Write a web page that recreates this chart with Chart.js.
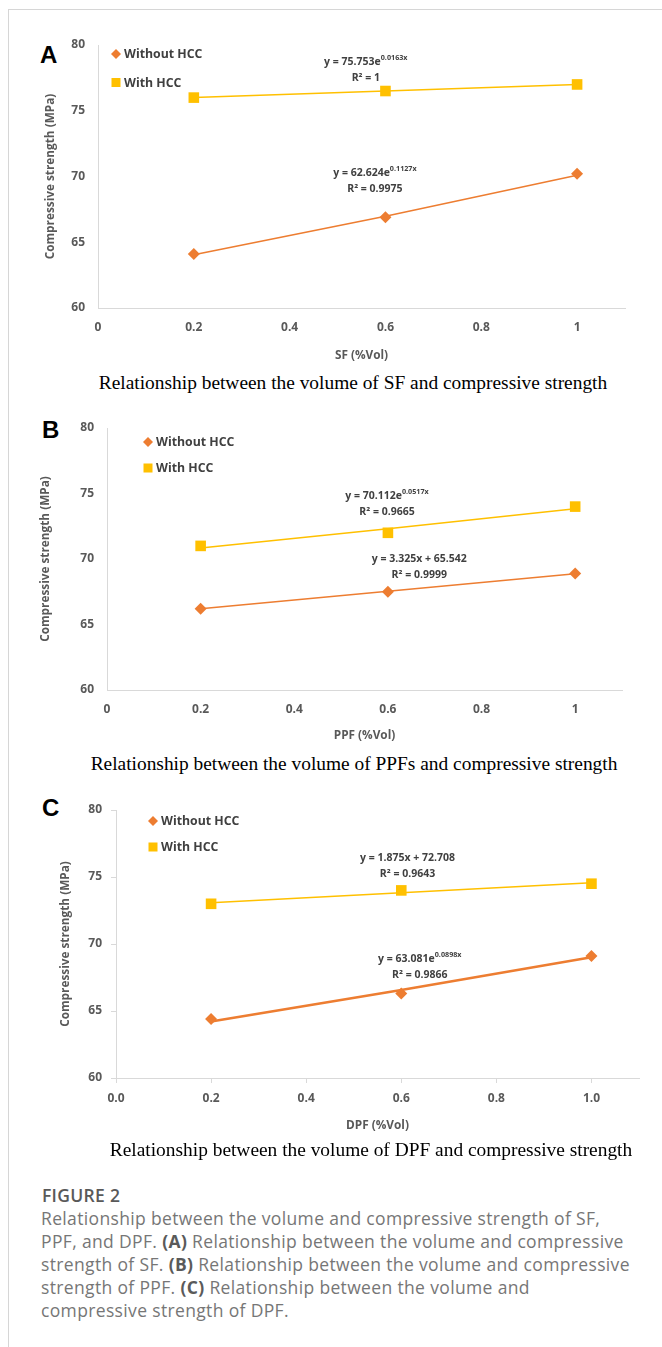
<!DOCTYPE html>
<html>
<head>
<meta charset="utf-8">
<script src="https://cdn.jsdelivr.net/npm/chart.js@4.4.1/dist/chart.umd.min.js"></script>
<style>
html,body{margin:0;padding:0;background:#fff;}
body{width:662px;height:1347px;position:relative;overflow:hidden;font-family:"Open Sans",sans-serif;}
.frame{position:absolute;left:8px;top:9px;width:660px;height:1345px;border-top:1px solid #d6d6d6;border-left:1px solid #d6d6d6;}
canvas{position:absolute;left:10px;}
.letter{position:absolute;font:bold 24px "Liberation Sans",Arial,sans-serif;color:#000;line-height:24px;}
.sub{position:absolute;font:19.4px "Liberation Serif","Times New Roman",serif;color:#000;white-space:nowrap;transform:translate(-50%,-50%);line-height:22px;}
.fig{position:absolute;left:42px;top:1184px;font:600 17.5px/23px "Open Sans",sans-serif;color:#595959;letter-spacing:0.3px;}
.cap{position:absolute;left:41px;top:1207px;font:400 17.5px/23px "Open Sans",sans-serif;color:#767676;white-space:nowrap;letter-spacing:0.35px;}
.cap b{font-weight:700;color:#5a5a5a;}
</style>
</head>
<body>
<div class="frame"></div>
<div class="letter" style="left:40px;top:43px;">A</div>
<div class="letter" style="left:42px;top:418px;">B</div>
<div class="letter" style="left:42px;top:796px;">C</div>
<canvas id="cA"></canvas>
<canvas id="cB"></canvas>
<canvas id="cC"></canvas>
<div class="sub" style="left:353px;top:383px;">Relationship between the volume of SF and compressive strength</div>
<div class="sub" style="left:354px;top:764px;">Relationship between the volume of PPFs and compressive strength</div>
<div class="sub" style="left:371px;top:1150px;">Relationship between the volume of DPF and compressive strength</div>
<div class="fig">FIGURE 2</div>
<div class="cap">Relationship between the volume and compressive strength of SF,<br>PPF, and DPF. <b>(A)</b> Relationship between the volume and compressive<br>strength of SF. <b>(B)</b> Relationship between the volume and compressive<br>strength of PPF. <b>(C)</b> Relationship between the volume and<br>compressive strength of DPF.</div>
<script>
// ---------------- DATA ----------------
const seriesNames = ['Without HCC', 'With HCC'];
const fiberVolume = [0.2, 0.6, 1.0];

const sfWithout = [64.1, 66.9, 70.2];
const sfWith = [76.0, 76.5, 77.0];
const sfWithoutTrend = [64.05, 66.98, 70.09];
const sfWithTrend = [76.0, 76.5, 77.0];

const ppfWithout = [66.2, 67.5, 68.9];
const ppfWith = [71.0, 72.0, 74.0];
const ppfWithoutTrend = [66.21, 67.54, 68.87];
const ppfWithTrend = [70.84, 72.31, 73.83];

const dpfWithout = [64.4, 66.3, 69.1];
const dpfWith = [73.0, 74.0, 74.5];
const dpfWithoutTrend = [64.22, 66.56, 69.01];
const dpfWithTrend = [73.08, 73.83, 74.58];

const sfXTickLabels = ['0', '0.2', '0.4', '0.6', '0.8', '1'];
const ppfXTickLabels = ['0', '0.2', '0.4', '0.6', '0.8', '1'];
const dpfXTickLabels = ['0.0', '0.2', '0.4', '0.6', '0.8', '1.0'];
const yTickLabels = ['60', '65', '70', '75', '80'];

const xTitles = ['SF (%Vol)', 'PPF (%Vol)', 'DPF (%Vol)'];
const yTitle = 'Compressive strength (MPa)';

// equation labels: [With HCC, Without HCC]
const sfEquations = [
  {eq: 'y = 75.753e', sup: '0.0163x', r2: 'R² = 1'},
  {eq: 'y = 62.624e', sup: '0.1127x', r2: 'R² = 0.9975'}
];
const ppfEquations = [
  {eq: 'y = 70.112e', sup: '0.0517x', r2: 'R² = 0.9665'},
  {eq: 'y = 3.325x + 65.542', sup: '', r2: 'R² = 0.9999'}
];
const dpfEquations = [
  {eq: 'y = 1.875x + 72.708', sup: '', r2: 'R² = 0.9643'},
  {eq: 'y = 63.081e', sup: '0.0898x', r2: 'R² = 0.9866'}
];

// ---------------- STYLE / LAYOUT ----------------
const ORANGE = '#ED7D31';
const YELLOW = '#FFC000';
const AXIS_GRAY = '#d9d9d9';
const TICK_COLOR = '#595959';
const TEXT_DARK = '#404040';

const panels = [
  {canvas: 'cA', plot: {left: 98, right: 625, top: 45, bottom: 308}, xTitle: xTitles[0], xLabels: sfXTickLabels,
   without: sfWithout, withH: sfWith, withoutTrend: sfWithoutTrend, withTrend: sfWithTrend, eqs: sfEquations,
   eqPos: [[0.559, 78.71], [0.578, 70.27]], legend: {dx: 18, dy1: 9, dy2: 37.5}, ticks: false,
   yTitleX: 51, xTitleGap: 48, orangeWidth: 1.5},
  {canvas: 'cB', plot: {left: 107, right: 622, top: 428, bottom: 690}, xTitle: xTitles[1], xLabels: ppfXTickLabels,
   without: ppfWithout, withH: ppfWith, withoutTrend: ppfWithoutTrend, withTrend: ppfWithTrend, eqs: ppfEquations,
   eqPos: [[0.598, 74.81], [0.667, 70.0]], legend: {dx: 41, dy1: 14, dy2: 40}, ticks: false,
   yTitleX: 46, xTitleGap: 46, orangeWidth: 1.5},
  {canvas: 'cC', plot: {left: 116, right: 639, top: 810, bottom: 1078}, xTitle: xTitles[2], xLabels: dpfXTickLabels,
   without: dpfWithout, withH: dpfWith, withoutTrend: dpfWithoutTrend, withTrend: dpfWithTrend, eqs: dpfEquations,
   eqPos: [[0.613, 76.42], [0.639, 68.88]], legend: {dx: 37, dy1: 11, dy2: 37}, ticks: true,
   yTitleX: 66, xTitleGap: 48, orangeWidth: 2.5}
];

const CANVAS_LEFT = 10, CANVAS_W = 652, TOP_PAD = 30, X_AXIS_H = 62;
const TITLE_FONT = 11.8;
const EQ_FONT = 10.5, SUP_FONT = 7.2;

function drawDiamond(ctx, x, y, r, color) {
  ctx.beginPath();
  ctx.moveTo(x, y - r); ctx.lineTo(x + r, y); ctx.lineTo(x, y + r); ctx.lineTo(x - r, y);
  ctx.closePath(); ctx.fillStyle = color; ctx.fill();
}
function drawSquare(ctx, x, y, s, color) {
  ctx.fillStyle = color; ctx.fillRect(x - s / 2, y - s / 2, s, s);
}

const overlayPlugin = {
  id: 'overlay',
  afterDatasetsDraw(chart, args, opts) {
    const ctx = chart.ctx;
    const area = chart.chartArea;
    const xs = chart.scales.x, ys = chart.scales.y;
    ctx.save();
    // legend
    const lg = opts.legend;
    const lx = area.left + lg.dx;
    drawDiamond(ctx, lx, area.top + lg.dy1, 5, ORANGE);
    drawSquare(ctx, lx, area.top + lg.dy2, 9, YELLOW);
    ctx.fillStyle = TEXT_DARK;
    ctx.font = 'bold 12.3px "Open Sans"';
    ctx.textBaseline = 'middle';
    ctx.textAlign = 'left';
    ctx.fillText(seriesNames[0], lx + 8, area.top + lg.dy1 + 0.5);
    ctx.fillText(seriesNames[1], lx + 8, area.top + lg.dy2 + 0.5);
    // equations
    opts.eqs.forEach((e, i) => {
      const cx = xs.getPixelForValue(opts.eqPos[i][0]);
      const cy = ys.getPixelForValue(opts.eqPos[i][1]);
      const baseFont = 'bold ' + EQ_FONT + 'px "Open Sans"';
      const supFont = 'bold ' + SUP_FONT + 'px "Open Sans"';
      ctx.font = baseFont;
      const wBase = ctx.measureText(e.eq).width;
      ctx.font = supFont;
      const wSup = e.sup ? ctx.measureText(e.sup).width : 0;
      const start = cx - (wBase + wSup) / 2;
      ctx.textAlign = 'left';
      ctx.fillStyle = TEXT_DARK;
      ctx.font = baseFont;
      ctx.fillText(e.eq, start, cy);
      if (e.sup) {
        ctx.font = supFont;
        ctx.fillText(e.sup, start + wBase, cy - 4);
      }
      ctx.font = baseFont;
      ctx.textAlign = 'center';
      ctx.fillText(e.r2, cx, cy + 16);
    });
    ctx.restore();
  }
};

function pts(xv, yv) { return xv.map((x, i) => ({x: x, y: yv[i]})); }

panels.forEach(p => {
  const cv = document.getElementById(p.canvas);
  const top = p.plot.top - TOP_PAD;
  const h = p.plot.bottom + X_AXIS_H - top;
  cv.width = CANVAS_W; cv.height = h;
  cv.style.top = top + 'px';
  cv.style.width = CANVAS_W + 'px'; cv.style.height = h + 'px';
  const lhTitle = TITLE_FONT * 1.2;
  new Chart(cv, {
    type: 'scatter',
    data: {
      datasets: [
        {label: seriesNames[0], data: pts(fiberVolume, p.without), pointStyle: 'rectRot', pointRadius: 6,
         backgroundColor: ORANGE, borderColor: ORANGE, pointBorderWidth: 0, showLine: false, order: 0},
        {label: seriesNames[1], data: pts(fiberVolume, p.withH), pointStyle: 'rect', pointRadius: 7.5,
         backgroundColor: YELLOW, borderColor: YELLOW, pointBorderWidth: 0, showLine: false, order: 0},
        {label: 'trend1', data: pts(fiberVolume, p.withoutTrend), showLine: true, pointRadius: 0,
         borderColor: ORANGE, borderWidth: p.orangeWidth, order: 1},
        {label: 'trend2', data: pts(fiberVolume, p.withTrend), showLine: true, pointRadius: 0,
         borderColor: YELLOW, borderWidth: 1.5, order: 1}
      ]
    },
    options: {
      responsive: false,
      animation: false,
      devicePixelRatio: 1,
      events: [],
      layout: {padding: {left: 0, top: TOP_PAD, right: CANVAS_LEFT + CANVAS_W - p.plot.right, bottom: 0}},
      font: {family: '"Open Sans"'},
      plugins: {
        legend: {display: false}, tooltip: {enabled: false},
        overlay: {legend: p.legend, eqs: p.eqs, eqPos: p.eqPos}
      },
      scales: {
        x: {
          type: 'linear', min: 0, max: 1.1,
          afterFit: s => { s.height = X_AXIS_H; },
          grid: {display: p.ticks, drawOnChartArea: false, drawTicks: p.ticks, tickLength: 5, color: AXIS_GRAY},
          border: {display: true, color: AXIS_GRAY, width: 1},
          ticks: {stepSize: 0.2, includeBounds: false, padding: p.ticks ? 8 : 12, color: TICK_COLOR,
                  font: {family: '"Open Sans"', size: 12, weight: 'bold'}, maxRotation: 0, autoSkip: false,
                  callback: (v, i) => p.xLabels[i]},
          title: {display: true, text: p.xTitle, color: TICK_COLOR,
                  font: {family: '"Open Sans"', size: TITLE_FONT, weight: 'bold'},
                  padding: {top: 0, bottom: X_AXIS_H - p.xTitleGap - lhTitle / 2}}
        },
        y: {
          type: 'linear', min: 60, max: 80,
          afterFit: s => { s.width = p.plot.left - CANVAS_LEFT; },
          grid: {display: p.ticks, drawOnChartArea: false, drawTicks: p.ticks, tickLength: 5, color: AXIS_GRAY},
          border: {display: true, color: AXIS_GRAY, width: 1},
          ticks: {stepSize: 5, padding: p.ticks ? 9 : 13, color: TICK_COLOR,
                  font: {family: '"Open Sans"', size: 12, weight: 'bold'},
                  callback: (v, i) => yTickLabels[i]},
          title: {display: true, text: yTitle, color: TICK_COLOR,
                  font: {family: '"Open Sans"', size: TITLE_FONT, weight: 'bold'},
                  padding: {top: p.yTitleX - CANVAS_LEFT - lhTitle / 2, bottom: 0}}
        }
      }
    },
    plugins: [overlayPlugin]
  });
});
</script>
</body>
</html>
